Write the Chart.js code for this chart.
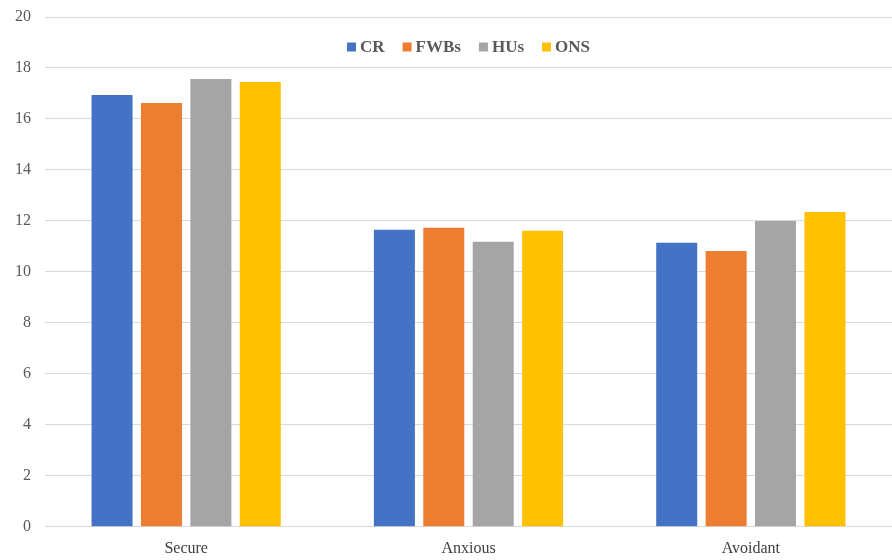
<!DOCTYPE html>
<html>
<head>
<meta charset="utf-8">
<script src="https://cdn.jsdelivr.net/npm/chart.js@4.4.1/dist/chart.umd.min.js"></script>
<style>
  html, body { margin: 0; padding: 0; background: #fff; }
  #wrap { width: 892px; height: 560px; }
</style>
</head>
<body>
<div id="wrap"><canvas id="attachmentChart" width="892" height="560"></canvas></div>
<script>
const categories = ['Secure', 'Anxious', 'Avoidant'];
const seriesNames = ['CR', 'FWBs', 'HUs', 'ONS'];
const crValues = [16.94, 11.65, 11.14];
const fwbValues = [16.63, 11.73, 10.82];
const huValues = [17.57, 11.18, 12.0];
const onsValues = [17.45, 11.61, 12.35];
const seriesColors = ['#4472C4', '#ED7D31', '#A5A5A5', '#FFC000'];

const ctx = document.getElementById('attachmentChart').getContext('2d');
const allValues = [crValues, fwbValues, huValues, onsValues];

const datasets = [];
seriesNames.forEach((name, i) => {
    datasets.push({
        label: name,
        data: allValues[i],
        backgroundColor: seriesColors[i],
        borderWidth: 0,
        categoryPercentage: 0.7,
        barPercentage: 0.83
    });
});

// legend sits inside the plot, near the top, like the original
const innerLegend = {
    id: 'innerLegend',
    afterDraw(chart) {
        const c = chart.ctx;
        const area = chart.chartArea;
        const box = 9, gapText = 4, gapItem = 18;
        c.save();
        c.font = 'bold 17px "Liberation Serif"';
        c.textBaseline = 'middle';
        let total = 0;
        const widths = chart.data.datasets.map(ds => c.measureText(ds.label).width);
        widths.forEach(w => { total += box + gapText + w; });
        total += gapItem * (widths.length - 1);
        let x = (area.left + area.right) / 2 - total / 2;
        const y = area.top + 30;
        chart.data.datasets.forEach((ds, i) => {
            c.fillStyle = ds.backgroundColor;
            c.fillRect(x, y - box / 2, box, box);
            x += box + gapText;
            c.fillStyle = '#595959';
            c.fillText(ds.label, x, y + 1);
            x += widths[i] + gapItem;
        });
        c.restore();
    }
};

const myChart = new Chart(ctx, {
    type: 'bar',
    data: {
        labels: categories,
        datasets: datasets
    },
    options: {
        responsive: false,
        animation: false,
        layout: {
            padding: { left: 13, right: 0, top: 17, bottom: -2 }
        },
        scales: {
            x: {
                grid: { display: false },
                border: { color: '#d9d9d9', width: 1 },
                ticks: {
                    color: '#404040',
                    font: { family: 'Liberation Serif', size: 16 },
                    padding: 4
                }
            },
            y: {
                min: 0,
                max: 20,
                border: { display: false },
                grid: { color: '#d9d9d9', drawTicks: true, tickLength: 12, tickColor: 'rgba(0,0,0,0)' },
                ticks: {
                    stepSize: 2,
                    color: '#595959',
                    font: { family: 'Liberation Serif', size: 16 },
                    padding: 2
                }
            }
        },
        plugins: {
            legend: { display: false },
            tooltip: { enabled: false }
        }
    },
    plugins: [innerLegend]
});
</script>
</body>
</html>
